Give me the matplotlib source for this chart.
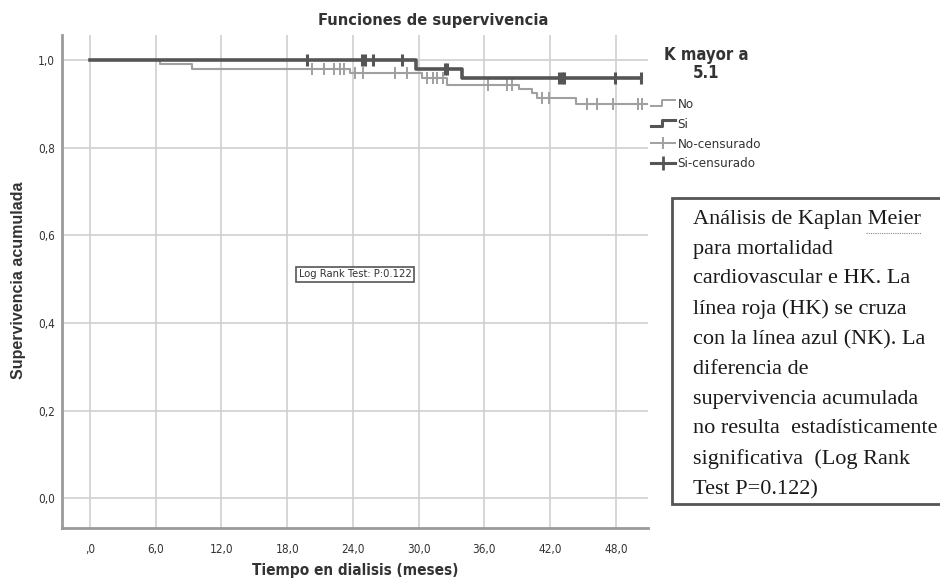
"""
Kaplan-Meier curves: survival by K mayor a 5.1 (No / Si).
"""

import numpy as np
import matplotlib
matplotlib.use("Agg")
import matplotlib.pyplot as plt
from matplotlib.lines import Line2D
from matplotlib.legend_handler import HandlerBase

# ---- data ----
x_ticks = [0, 6, 12, 18, 24, 30, 36, 42, 48]
x_labels = [",0", "6,0", "12,0", "18,0", "24,0", "30,0", "36,0", "42,0", "48,0"]
y_ticks = [0.0, 0.2, 0.4, 0.6, 0.8, 1.0]
y_labels = ["0,0", "0,2", "0,4", "0,6", "0,8", "1,0"]

no_times = [0, 6.4, 9.3, 23.7, 30.3, 32.6, 39.2, 40.3, 40.8, 44.4, 50.8]
no_surv = [1.0, 0.99, 0.98, 0.97, 0.96, 0.944, 0.933, 0.924, 0.913, 0.90, 0.90]
no_censored = [20.3, 21.4, 22.3, 22.8, 23.2, 24.2, 24.9, 27.8, 28.9, 30.8, 31.3,
               31.7, 32.2, 36.3, 38.1, 38.5, 41.3, 41.9, 45.4, 46.3, 47.7, 50.0, 50.4]

si_times = [0, 29.8, 34.0, 50.3]
si_surv = [1.0, 0.98, 0.958, 0.958]
si_censored = [19.8, 24.8, 25.1, 25.8, 28.5, 32.4, 32.6, 42.8, 43.1, 43.3, 47.9, 50.3]

legend_title = "K mayor a\n5.1"
legend_labels = ["No", "Si", "No-censurado", "Si-censurado"]
note = ("Análisis de Kaplan Meier\npara mortalidad\ncardiovascular e HK. La\n"
        "línea roja (HK) se cruza\ncon la línea azul (NK). La\ndiferencia de\n"
        "supervivencia acumulada\nno resulta  estadísticamente\n"
        "significativa  (Log Rank\nTest P=0.122)")

NO_COLOR = "#a0a0a0"
SI_COLOR = "#555555"
TEXT = "#333333"
COND = dict(family="DejaVu Sans", stretch="condensed")


def step_value(times, surv, t):
    idx = np.searchsorted(times, t, side="right") - 1
    return np.array(surv)[idx]


class StepHandler(HandlerBase):
    def create_artists(self, legend, orig_handle, xdescent, ydescent,
                       width, height, fontsize, trans):
        xs = np.array([0, 0.45, 0.45, 1.0]) * width - xdescent
        ys = np.array([0.15, 0.15, 0.85, 0.85]) * height - ydescent
        line = Line2D(xs, ys, color=orig_handle.get_color(),
                      lw=orig_handle.get_linewidth(), transform=trans)
        return [line]


def main():
    fig = plt.figure(figsize=(9.4, 5.83), dpi=100)
    ax = fig.add_axes([0.066, 0.094, 0.623, 0.846])

    ax.set_xlim(-2.55, 50.9)
    ax.set_ylim(-0.068, 1.057)

    for t in x_ticks:
        ax.axvline(t, color="#cfcfcf", lw=1.2, zorder=0)
    for v in y_ticks:
        ax.axhline(v, color="#cfcfcf", lw=1.2, zorder=0)

    # survival curves
    ax.step(no_times, no_surv, where="post", color=NO_COLOR, lw=1.5, zorder=2)
    ax.step(si_times, si_surv, where="post", color=SI_COLOR, lw=2.6, zorder=3)

    # censored marks
    ax.plot(no_censored, step_value(no_times, no_surv, no_censored), ls="none",
            marker="|", ms=8, mew=1.4, color=NO_COLOR, zorder=2)
    ax.plot(si_censored, step_value(si_times, si_surv, si_censored), ls="none",
            marker="|", ms=9, mew=2.2, color=SI_COLOR, zorder=3)

    ax.set_xticks(x_ticks)
    ax.set_xticklabels(x_labels, fontsize=8.5, color=TEXT, **COND)
    ax.set_yticks(y_ticks)
    ax.set_yticklabels(y_labels, fontsize=8.5, color=TEXT, **COND)
    ax.tick_params(axis="x", length=0, pad=11)
    ax.tick_params(axis="y", length=0, pad=5)

    for side in ["top", "right"]:
        ax.spines[side].set_visible(False)
    for side in ["left", "bottom"]:
        ax.spines[side].set_color("#9a9a9a")
        ax.spines[side].set_linewidth(2.0)

    fig.text(433 / 940, 1 - 20 / 583, "Funciones de supervivencia", fontsize=11.8,
             fontweight="bold", color=TEXT, ha="center", va="center", **COND)
    ax.set_xlabel("Tiempo en dialisis (meses)", fontsize=11,
                  fontweight="bold", color=TEXT, **COND)
    ax.xaxis.set_label_coords(0.5, -0.07)
    ax.set_ylabel("Supervivencia acumulada", family=["Liberation Sans", "DejaVu Sans"],
                  fontsize=11.5, fontweight="bold", color=TEXT)
    ax.yaxis.set_label_coords(-0.062, 0.503)

    ax.text(24.2, 0.511, "Log Rank Test: P:0.122", fontsize=8,
            color=TEXT, ha="center", va="center",
            bbox=dict(boxstyle="square,pad=0.25", fc="white", ec="#555555", lw=1.2),
            **COND)

    handles = [
        Line2D([], [], color=NO_COLOR, lw=1.4),
        Line2D([], [], color=SI_COLOR, lw=2.2),
        Line2D([], [], color=NO_COLOR, lw=1.4, marker="|", ms=9, mew=1.4),
        Line2D([], [], color=SI_COLOR, lw=2.2, marker="|", ms=10, mew=2.0),
    ]
    hmap = {handles[0]: StepHandler(), handles[1]: StepHandler()}
    leg = fig.legend(handles, legend_labels, handler_map=hmap, loc="upper left",
                     bbox_to_anchor=(0.683, 0.848), frameon=False,
                     prop=dict(size=9.5, **COND),
                     handlelength=1.8, handletextpad=0.2, labelspacing=0.52,
                     borderpad=0.2)
    for txt in leg.get_texts():
        txt.set_color(TEXT)
    fig.text(706 / 940, 1 - 64 / 583, legend_title, fontsize=12, fontweight="bold",
             color=TEXT, ha="center", va="center", multialignment="center",
             linespacing=1.0, **COND)

    # explanatory note box
    fig.patches.append(plt.Rectangle((672 / 940, 1 - 504 / 583), 0.3, 306 / 583,
                                     transform=fig.transFigure, fc="white",
                                     ec="#555555", lw=2.0))
    fig.text(693 / 940, 1 - 210 / 583, note, family=["Liberation Serif", "DejaVu Serif"],
             fontsize=16, color="#1a1a1a", va="top", ha="left", linespacing=1.76)
    # spell-check underline under "Meier"
    fig.lines.append(Line2D([866 / 940, 921 / 940], [1 - 233 / 583, 1 - 233 / 583],
                            transform=fig.transFigure, color="#888888", lw=0.8,
                            ls=(0, (1, 1))))

    plt.savefig("out.png", dpi=100)
    plt.close()


if __name__ == "__main__":
    main()
